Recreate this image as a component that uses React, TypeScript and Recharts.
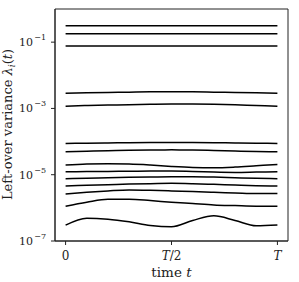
import React from 'react';
import { LineChart, Line, XAxis, YAxis, ReferenceArea, Label } from 'recharts';

const times = [0, 0.1, 0.2, 0.3, 0.4, 0.5, 0.6, 0.7, 0.8, 0.9, 1.0];

const s1 = [0.31, 0.31, 0.31, 0.31, 0.31, 0.31, 0.31, 0.31, 0.31, 0.31, 0.31];
const s2 = [0.178, 0.178, 0.178, 0.178, 0.178, 0.178, 0.178, 0.178, 0.178, 0.178, 0.178];
const s3 = [0.077, 0.077, 0.077, 0.077, 0.077, 0.077, 0.077, 0.077, 0.077, 0.077, 0.077];
const s4 = [2.88e-3, 2.95e-3, 3.02e-3, 3.09e-3, 3.16e-3, 3.16e-3, 3.16e-3, 3.09e-3, 3.02e-3, 2.95e-3, 2.88e-3];
const s5 = [1.17e-3, 1.22e-3, 1.26e-3, 1.30e-3, 1.33e-3, 1.35e-3, 1.35e-3, 1.33e-3, 1.29e-3, 1.23e-3, 1.17e-3];
const s6 = [8.81e-5, 8.95e-5, 9.12e-5, 9.27e-5, 9.38e-5, 9.44e-5, 9.38e-5, 9.27e-5, 9.12e-5, 8.95e-5, 8.81e-5];
const s7 = [4.90e-5, 5.13e-5, 5.31e-5, 5.50e-5, 5.56e-5, 5.62e-5, 5.56e-5, 5.37e-5, 5.19e-5, 5.01e-5, 4.90e-5];
const s8 = [1.95e-5, 2.09e-5, 2.14e-5, 2.09e-5, 1.95e-5, 1.78e-5, 1.66e-5, 1.62e-5, 1.70e-5, 1.86e-5, 2.04e-5];
const s9 = [1.23e-5, 1.245e-5, 1.26e-5, 1.27e-5, 1.29e-5, 1.29e-5, 1.26e-5, 1.20e-5, 1.175e-5, 1.20e-5, 1.23e-5];
const s10 = [7.59e-6, 7.76e-6, 8.13e-6, 8.32e-6, 8.51e-6, 8.71e-6, 8.71e-6, 8.51e-6, 8.13e-6, 7.76e-6, 7.59e-6];
const s11 = [4.57e-6, 4.79e-6, 5.01e-6, 5.25e-6, 5.37e-6, 5.50e-6, 5.37e-6, 5.13e-6, 4.90e-6, 4.68e-6, 4.57e-6];
const s12 = [2.63e-6, 2.95e-6, 3.24e-6, 3.47e-6, 3.39e-6, 3.24e-6, 3.09e-6, 2.95e-6, 2.82e-6, 2.69e-6, 2.69e-6];
const s13 = [1.12e-6, 1.48e-6, 1.82e-6, 1.82e-6, 1.66e-6, 1.48e-6, 1.35e-6, 1.23e-6, 1.17e-6, 1.12e-6, 1.12e-6];
const s14 = [3.02e-7, 4.90e-7, 4.57e-7, 3.80e-7, 2.95e-7, 2.69e-7, 4.17e-7, 5.75e-7, 4.17e-7, 2.88e-7, 3.02e-7];

const series = [s1, s2, s3, s4, s5, s6, s7, s8, s9, s10, s11, s12, s13, s14];

const xTicks = [0, 0.5, 1];
const xTickLabels = ['0', 'T/2', 'T'];
const yTicks = [1e-7, 1e-5, 1e-3, 1e-1];
const yTickExps = ['−7', '−5', '−3', '−1'];

const data = times.map((t, i) => {
  const row: Record<string, number> = { t };
  series.forEach((s, k) => {
    row['s' + k] = s[i];
  });
  return row;
});

const FONT = '"DejaVu Serif", "Liberation Serif", serif';

const XTick = (props: any) => {
  const { x, y, payload } = props;
  const idx = xTicks.indexOf(payload.value);
  const lab = xTickLabels[idx] ?? '';
  return (
    <text x={x} y={y + 12.5} textAnchor="middle" fontFamily={FONT} fontSize={12} fill="#222">
      {lab === '0' ? '0' : lab === 'T' ? <tspan fontStyle="italic">T</tspan> : (
        <>
          <tspan fontStyle="italic">T</tspan>
          <tspan>/2</tspan>
        </>
      )}
    </text>
  );
};

const YTick = (props: any) => {
  const { x, y, payload } = props;
  const idx = yTicks.findIndex((v) => Math.abs(Math.log10(v) - Math.log10(payload.value)) < 1e-6);
  const exp = yTickExps[idx] ?? '';
  return (
    <text x={x - 16} y={y + 4} textAnchor="end" fontFamily={FONT} fontSize={11} fill="#222">
      10
      <tspan x={x - 3} dy={-6} fontSize={8} textAnchor="end">{exp}</tspan>
    </text>
  );
};

const XLabel = (props: any) => {
  const vb = props.viewBox || { x: 55, y: 241, width: 233, height: 41 };
  const cx = vb.x + vb.width / 2;
  return (
    <text x={cx} y={276.5} textAnchor="middle" fontFamily={FONT} fontSize={13.5} fill="#222">
      time <tspan fontStyle="italic">t</tspan>
    </text>
  );
};

const YLabel = () => {
  const cx = 11.5;
  const cy = 124.5;
  return (
    <text
      x={cx}
      y={cy}
      transform={`rotate(-90, ${cx}, ${cy})`}
      textAnchor="middle"
      fontFamily={FONT}
      fontSize={13}
      fill="#222"
    >
      Left-over variance <tspan fontStyle="italic">λ</tspan>
      <tspan fontStyle="italic" fontSize={9} dy={3}>i</tspan>
      <tspan dy={-3}>(</tspan>
      <tspan fontStyle="italic">t</tspan>
      <tspan>)</tspan>
    </text>
  );
};

export default function App() {
  return (
    <div style={{ position: 'absolute', left: 0, top: 0, width: 299, height: 282, background: '#fff' }}>
      <LineChart width={299} height={282} data={data} margin={{ top: 9, right: 11, left: 0, bottom: 0 }}>
        <XAxis
          dataKey="t"
          type="number"
          domain={[-0.05, 1.05]}
          ticks={xTicks}
          tick={<XTick />}
          tickSize={4}
          height={41}
          stroke="#222"
          axisLine={{ stroke: '#222' }}
          tickLine={{ stroke: '#222' }}
          allowDataOverflow
        >
          <Label content={<XLabel />} />
        </XAxis>
        <YAxis
          scale="log"
          type="number"
          domain={[1e-7, 1]}
          ticks={yTicks}
          tick={<YTick />}
          tickSize={4}
          width={55}
          stroke="#222"
          axisLine={{ stroke: '#222' }}
          tickLine={{ stroke: '#222' }}
          allowDataOverflow
          interval={0}
        >
          <Label content={<YLabel />} />
        </YAxis>
        <ReferenceArea x1={-0.05} x2={1.05} y1={1e-7} y2={1} fill="none" stroke="#222" strokeWidth={1} ifOverflow="visible" />
        {series.map((_, k) => (
          <Line
            key={k}
            dataKey={'s' + k}
            type="monotone"
            stroke="#000"
            strokeWidth={1.5}
            dot={false}
            isAnimationActive={false}
          />
        ))}
      </LineChart>
    </div>
  );
}
